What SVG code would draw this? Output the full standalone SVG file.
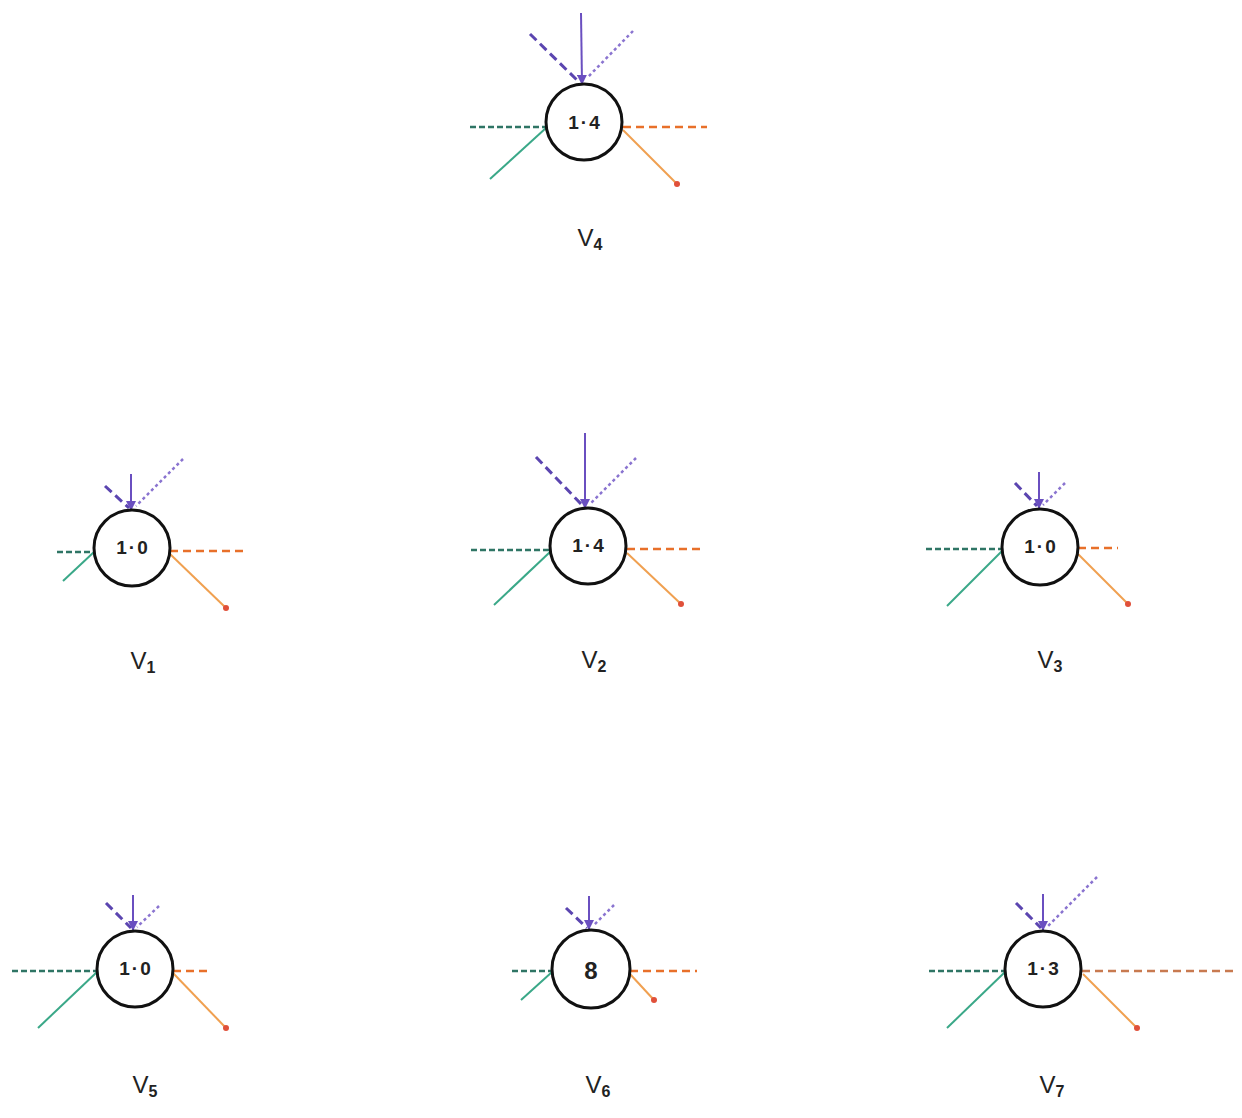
<svg xmlns="http://www.w3.org/2000/svg" width="1242" height="1118" viewBox="0 0 1242 1118">
<defs>
<marker id="ah" viewBox="0 0 10 10" refX="9" refY="5" markerWidth="5" markerHeight="5" orient="auto"><path d="M0,0 L10,5 L0,10 z" fill="#6a4fc0"/></marker>
<marker id="dot" viewBox="0 0 10 10" refX="5" refY="5" markerWidth="3" markerHeight="3"><circle cx="5" cy="5" r="5" fill="#e0503a"/></marker>
</defs>
<style>
.n{fill:#fff;stroke:#111;stroke-width:3}
.v{font-family:"Liberation Sans",Arial,sans-serif;font-size:19px;font-weight:bold;fill:#222;text-anchor:middle;dominant-baseline:central;letter-spacing:2px}
.lb{font-family:"Liberation Sans",Arial,sans-serif;font-size:24px;fill:#222;text-anchor:middle}
.sub{font-size:16px;font-weight:bold}
.pv{stroke:#6a4fc0;stroke-width:2;fill:none}
.pd{stroke:#5b45b0;stroke-width:3;stroke-dasharray:9 5;fill:none}
.po{stroke:#8a74d0;stroke-width:2.5;stroke-dasharray:3 3;fill:none}
.gd{stroke:#2f7565;stroke-width:2.5;stroke-dasharray:6 3;fill:none}
.gs{stroke:#3aa888;stroke-width:2;fill:none}
.od{stroke:#e8702a;stroke-width:2.5;stroke-dasharray:8 5;fill:none}
.os{stroke:#f0a050;stroke-width:2;fill:none}
</style>
<rect width="1242" height="1118" fill="#fff"/>
<g id="connectors">
<line class="pd" x1="530" y1="34" x2="580" y2="83"/>
<line class="po" x1="633" y1="31" x2="587" y2="78"/>
<line class="pv" x1="581" y1="13" x2="582" y2="84" marker-end="url(#ah)"/>
<line class="gd" x1="470" y1="127" x2="546" y2="127"/>
<line class="gs" x1="490" y1="179" x2="546" y2="128"/>
<line class="od" x1="623" y1="127" x2="707" y2="127"/>
<line class="os" x1="623" y1="130" x2="677" y2="184" marker-end="url(#dot)"/>
<line class="pd" x1="105" y1="486" x2="129" y2="508"/>
<line class="po" x1="183" y1="459" x2="136" y2="506"/>
<line class="pv" x1="131" y1="474" x2="131" y2="510" marker-end="url(#ah)"/>
<line class="gd" x1="57" y1="552" x2="94" y2="552"/>
<line class="gs" x1="63" y1="581" x2="94" y2="552"/>
<line class="od" x1="170" y1="551" x2="245" y2="551"/>
<line class="os" x1="170" y1="554" x2="226" y2="608" marker-end="url(#dot)"/>
<line class="pd" x1="536" y1="457" x2="583" y2="506"/>
<line class="po" x1="636" y1="458" x2="590" y2="504"/>
<line class="pv" x1="585" y1="433" x2="585" y2="508" marker-end="url(#ah)"/>
<line class="gd" x1="471" y1="550" x2="550" y2="550"/>
<line class="gs" x1="494" y1="605" x2="550" y2="552"/>
<line class="od" x1="627" y1="549" x2="701" y2="549"/>
<line class="os" x1="627" y1="553" x2="681" y2="604" marker-end="url(#dot)"/>
<line class="pd" x1="1015" y1="483" x2="1037" y2="506"/>
<line class="po" x1="1065" y1="483" x2="1043" y2="505"/>
<line class="pv" x1="1039" y1="472" x2="1039" y2="508" marker-end="url(#ah)"/>
<line class="gd" x1="926" y1="549" x2="1003" y2="549"/>
<line class="gs" x1="947" y1="606" x2="1003" y2="550"/>
<line class="od" x1="1078" y1="548" x2="1118" y2="548"/>
<line class="os" x1="1078" y1="554" x2="1128" y2="604" marker-end="url(#dot)"/>
<line class="pd" x1="106" y1="903" x2="131" y2="928"/>
<line class="po" x1="159" y1="906" x2="137" y2="927"/>
<line class="pv" x1="133" y1="895" x2="133" y2="930" marker-end="url(#ah)"/>
<line class="gd" x1="12" y1="971" x2="97" y2="971"/>
<line class="gs" x1="38" y1="1028" x2="97" y2="972"/>
<line class="od" x1="173" y1="971" x2="207" y2="971"/>
<line class="os" x1="173" y1="973" x2="226" y2="1028" marker-end="url(#dot)"/>
<line class="pd" x1="566" y1="908" x2="587" y2="928"/>
<line class="po" x1="614" y1="905" x2="593" y2="926"/>
<line class="pv" x1="589" y1="896" x2="589" y2="929" marker-end="url(#ah)"/>
<line class="gd" x1="512" y1="971" x2="552" y2="971"/>
<line class="gs" x1="521" y1="1000" x2="552" y2="972"/>
<line class="od" x1="630" y1="971" x2="697" y2="971"/>
<line class="os" x1="630" y1="974" x2="654" y2="1000" marker-end="url(#dot)"/>
<line class="pd" x1="1016" y1="903" x2="1041" y2="928"/>
<line class="po" x1="1097" y1="877" x2="1047" y2="927"/>
<line class="pv" x1="1043" y1="894" x2="1043" y2="930" marker-end="url(#ah)"/>
<line class="gd" x1="929" y1="971" x2="1005" y2="971"/>
<line class="gs" x1="947" y1="1028" x2="1005" y2="972"/>
<line class="od" x1="1082" y1="971" x2="1237" y2="971" style="stroke:#c87a50"/>
<line class="os" x1="1083" y1="974" x2="1137" y2="1028" marker-end="url(#dot)"/>
</g>
<g id="v4"><circle class="n" cx="584" cy="122" r="38"/><text class="v" x="585" y="122">1·4</text><text class="lb" x="590" y="246">V<tspan class="sub" dy="4">4</tspan></text></g>
<g id="v1"><circle class="n" cx="132" cy="548" r="38"/><text class="v" x="133" y="547">1·0</text><text class="lb" x="143" y="669">V<tspan class="sub" dy="4">1</tspan></text></g>
<g id="v2"><circle class="n" cx="588" cy="546" r="38"/><text class="v" x="589" y="545">1·4</text><text class="lb" x="594" y="668">V<tspan class="sub" dy="4">2</tspan></text></g>
<g id="v3"><circle class="n" cx="1040" cy="547" r="38"/><text class="v" x="1041" y="546">1·0</text><text class="lb" x="1050" y="668">V<tspan class="sub" dy="4">3</tspan></text></g>
<g id="v5"><circle class="n" cx="135" cy="969" r="38"/><text class="v" x="136" y="968">1·0</text><text class="lb" x="145" y="1093">V<tspan class="sub" dy="4">5</tspan></text></g>
<g id="v6"><circle class="n" cx="591" cy="969" r="39"/><text class="v" x="591" y="970" style="font-size:24px;letter-spacing:0">8</text><text class="lb" x="598" y="1093">V<tspan class="sub" dy="4">6</tspan></text></g>
<g id="v7"><circle class="n" cx="1043" cy="969" r="38"/><text class="v" x="1044" y="968">1·3</text><text class="lb" x="1052" y="1093">V<tspan class="sub" dy="4">7</tspan></text></g>
</svg>
